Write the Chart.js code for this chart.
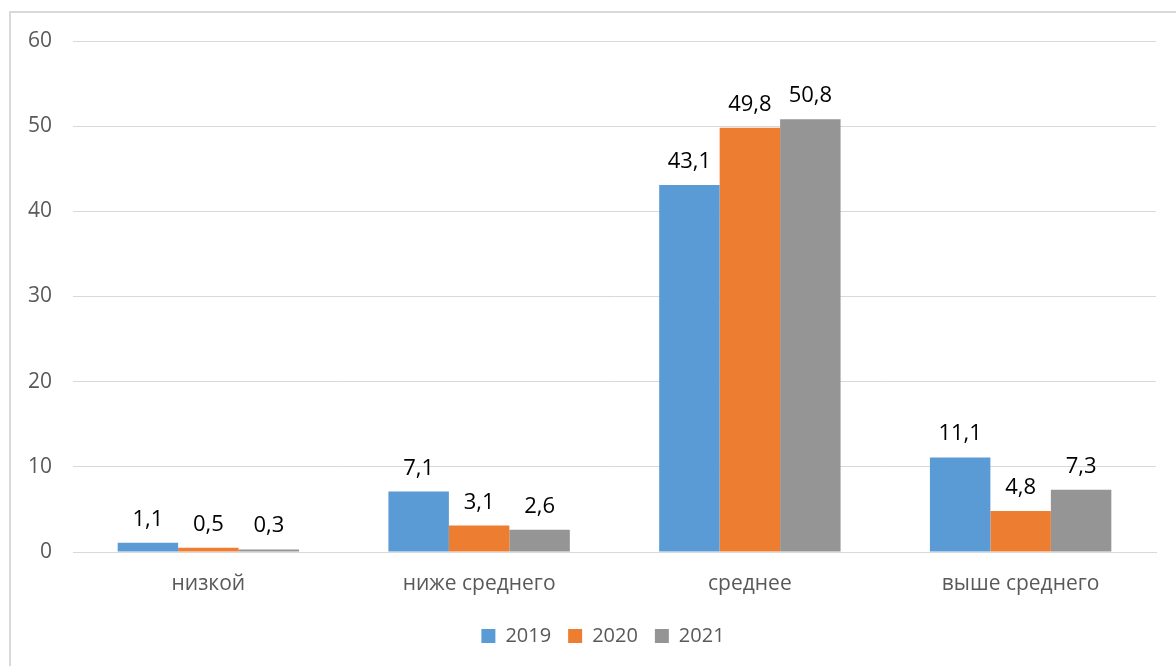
<!DOCTYPE html>
<html>
<head>
<meta charset="utf-8">
<script src="https://cdn.jsdelivr.net/npm/chart.js@4/dist/chart.umd.min.js"></script>
<style>
    html, body { margin: 0; padding: 0; background: #fff; }
    #wrap { position: relative; width: 1176px; height: 666px; overflow: hidden; }
    #frame {
        position: absolute; left: 9px; top: 11px;
        width: 1200px; height: 700px;
        border: 2px solid #d9d9d9; box-sizing: border-box;
    }
    #chart { position: absolute; left: 0; top: 0; }
</style>
</head>
<body>
<div id="wrap">
    <div id="frame"></div>
    <canvas id="chart" width="1176" height="666"></canvas>
</div>
<script>
const categories = ['низкой', 'ниже среднего', 'среднее', 'выше среднего'];
const years = ['2019', '2020', '2021'];
const values2019 = [1.1, 7.1, 43.1, 11.1];
const values2020 = [0.5, 3.1, 49.8, 4.8];
const values2021 = [0.3, 2.6, 50.8, 7.3];
const yTicks = [0, 10, 20, 30, 40, 50, 60];

const colors = ['#5b9bd5', '#ed7d31', '#959595'];
const fontFamily = '"Open Sans", Lato, sans-serif';

// value labels above each bar, decimal comma
const barLabels = {
    id: 'barLabels',
    afterDatasetsDraw(chart) {
        const ctx = chart.ctx;
        ctx.save();
        ctx.font = '22px ' + fontFamily;
        ctx.fillStyle = '#000';
        ctx.textAlign = 'center';
        ctx.textBaseline = 'alphabetic';
        chart.data.datasets.forEach((ds, i) => {
            chart.getDatasetMeta(i).data.forEach((bar, j) => {
                const txt = ds.data[j].toFixed(1).replace('.', ',');
                ctx.fillText(txt, bar.x, bar.y - 17);
            });
        });
        ctx.restore();
    }
};

// nudge the legend so it sits under the plot area rather than the canvas
const legendShift = {
    id: 'legendShift',
    afterLayout(chart) {
        chart.legend.left += 25;
        chart.legend.right += 25;
    }
};

const ctx = document.getElementById('chart').getContext('2d');
new Chart(ctx, {
    type: 'bar',
    data: {
        labels: categories,
        datasets: [values2019, values2020, values2021].map((d, i) => ({
            label: years[i],
            data: d,
            backgroundColor: colors[i],
            categoryPercentage: 0.67,
            barPercentage: 1
        }))
    },
    options: {
        responsive: false,
        animation: false,
        layout: { padding: { top: 41, right: 20, left: 0, bottom: 10 } },
        plugins: {
            tooltip: { enabled: false },
            legend: {
                position: 'bottom',
                labels: {
                    boxWidth: 14,
                    boxHeight: 14,
                    padding: 17,
                    color: '#595959',
                    font: { family: fontFamily, size: 20 }
                }
            }
        },
        scales: {
            x: {
                grid: { display: false, drawTicks: false },
                border: { color: '#d9d9d9', width: 1 },
                ticks: {
                    color: '#595959',
                    padding: 19,
                    font: { family: fontFamily, size: 21 }
                },
                afterFit(scale) { scale.height = 57; }
            },
            y: {
                min: 0,
                max: 60,
                afterBuildTicks(scale) { scale.ticks = yTicks.map(v => ({ value: v })); },
                grid: { color: '#d9d9d9', lineWidth: 1, drawTicks: false },
                border: { display: false },
                ticks: {
                    color: '#595959',
                    padding: 21,
                    font: { family: fontFamily, size: 21 }
                },
                afterFit(scale) { scale.width = 73; }
            }
        }
    },
    plugins: [barLabels, legendShift]
});
</script>
</body>
</html>
